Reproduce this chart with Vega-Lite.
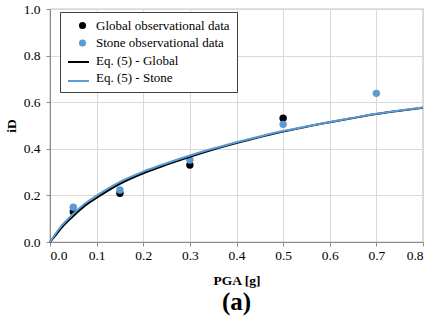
{
  "$schema": "https://vega.github.io/schema/vega-lite/v6.json",
  "autosize": {"type": "none"},
  "padding": {"left": 50, "top": 9, "right": 7, "bottom": 79},
  "width": 373,
  "height": 233,
  "background": "white",
  "title": {"text": "(a)", "orient": "bottom", "font": "Liberation Serif, Times New Roman, serif", "fontSize": 25, "fontWeight": "bold", "color": "#000000", "offset": 3, "anchor": "middle"},
  "config": {
    "font": "Liberation Serif, Times New Roman, serif",
    "view": {"stroke": "#8c8c8c", "strokeWidth": 1.2},
    "axis": {"labelFont": "Liberation Serif, Times New Roman, serif", "titleFont": "Liberation Serif, Times New Roman, serif", "labelColor": "#000000", "titleColor": "#000000", "gridColor": "#d9d9d9", "gridWidth": 1, "domainColor": "#8c8c8c", "tickColor": "#8c8c8c", "labelFontSize": 13.5, "titleFontSize": 13.5, "titleFontWeight": "bold"},
    "legend": {"labelFont": "Liberation Serif, Times New Roman, serif", "labelColor": "#000000", "labelFontSize": 13, "labelLimit": 300}
  },
  "data": {"values": [
    {"x": 0.05, "y": 0.13, "series": "Global observational data", "kind": "obs"},
    {"x": 0.15, "y": 0.209, "series": "Global observational data", "kind": "obs"},
    {"x": 0.3, "y": 0.33, "series": "Global observational data", "kind": "obs"},
    {"x": 0.5, "y": 0.531, "series": "Global observational data", "kind": "obs"},
    {"x": 0.05, "y": 0.149, "series": "Stone observational data", "kind": "obs"},
    {"x": 0.15, "y": 0.223, "series": "Stone observational data", "kind": "obs"},
    {"x": 0.3, "y": 0.352, "series": "Stone observational data", "kind": "obs"},
    {"x": 0.5, "y": 0.505, "series": "Stone observational data", "kind": "obs"},
    {"x": 0.7, "y": 0.638, "series": "Stone observational data", "kind": "obs"},
    {"x": 0.0, "y": 0.0, "series": "Eq. (5) - Global", "kind": "eq"},
    {"x": 0.01, "y": 0.024, "series": "Eq. (5) - Global", "kind": "eq"},
    {"x": 0.025, "y": 0.062, "series": "Eq. (5) - Global", "kind": "eq"},
    {"x": 0.05, "y": 0.112, "series": "Eq. (5) - Global", "kind": "eq"},
    {"x": 0.075, "y": 0.156, "series": "Eq. (5) - Global", "kind": "eq"},
    {"x": 0.1, "y": 0.19, "series": "Eq. (5) - Global", "kind": "eq"},
    {"x": 0.15, "y": 0.25, "series": "Eq. (5) - Global", "kind": "eq"},
    {"x": 0.2, "y": 0.295, "series": "Eq. (5) - Global", "kind": "eq"},
    {"x": 0.25, "y": 0.332, "series": "Eq. (5) - Global", "kind": "eq"},
    {"x": 0.3, "y": 0.366, "series": "Eq. (5) - Global", "kind": "eq"},
    {"x": 0.35, "y": 0.397, "series": "Eq. (5) - Global", "kind": "eq"},
    {"x": 0.4, "y": 0.425, "series": "Eq. (5) - Global", "kind": "eq"},
    {"x": 0.45, "y": 0.451, "series": "Eq. (5) - Global", "kind": "eq"},
    {"x": 0.5, "y": 0.474, "series": "Eq. (5) - Global", "kind": "eq"},
    {"x": 0.55, "y": 0.495, "series": "Eq. (5) - Global", "kind": "eq"},
    {"x": 0.6, "y": 0.514, "series": "Eq. (5) - Global", "kind": "eq"},
    {"x": 0.65, "y": 0.532, "series": "Eq. (5) - Global", "kind": "eq"},
    {"x": 0.7, "y": 0.549, "series": "Eq. (5) - Global", "kind": "eq"},
    {"x": 0.75, "y": 0.563, "series": "Eq. (5) - Global", "kind": "eq"},
    {"x": 0.8, "y": 0.576, "series": "Eq. (5) - Global", "kind": "eq"},
    {"x": 0.0, "y": 0.0, "series": "Eq. (5) - Stone", "kind": "eq"},
    {"x": 0.01, "y": 0.03, "series": "Eq. (5) - Stone", "kind": "eq"},
    {"x": 0.025, "y": 0.07, "series": "Eq. (5) - Stone", "kind": "eq"},
    {"x": 0.05, "y": 0.121, "series": "Eq. (5) - Stone", "kind": "eq"},
    {"x": 0.075, "y": 0.165, "series": "Eq. (5) - Stone", "kind": "eq"},
    {"x": 0.1, "y": 0.199, "series": "Eq. (5) - Stone", "kind": "eq"},
    {"x": 0.15, "y": 0.258, "series": "Eq. (5) - Stone", "kind": "eq"},
    {"x": 0.2, "y": 0.302, "series": "Eq. (5) - Stone", "kind": "eq"},
    {"x": 0.25, "y": 0.338, "series": "Eq. (5) - Stone", "kind": "eq"},
    {"x": 0.3, "y": 0.371, "series": "Eq. (5) - Stone", "kind": "eq"},
    {"x": 0.35, "y": 0.401, "series": "Eq. (5) - Stone", "kind": "eq"},
    {"x": 0.4, "y": 0.428, "series": "Eq. (5) - Stone", "kind": "eq"},
    {"x": 0.45, "y": 0.453, "series": "Eq. (5) - Stone", "kind": "eq"},
    {"x": 0.5, "y": 0.476, "series": "Eq. (5) - Stone", "kind": "eq"},
    {"x": 0.55, "y": 0.496, "series": "Eq. (5) - Stone", "kind": "eq"},
    {"x": 0.6, "y": 0.515, "series": "Eq. (5) - Stone", "kind": "eq"},
    {"x": 0.65, "y": 0.533, "series": "Eq. (5) - Stone", "kind": "eq"},
    {"x": 0.7, "y": 0.55, "series": "Eq. (5) - Stone", "kind": "eq"},
    {"x": 0.75, "y": 0.564, "series": "Eq. (5) - Stone", "kind": "eq"},
    {"x": 0.8, "y": 0.577, "series": "Eq. (5) - Stone", "kind": "eq"}
  ]},
  "encoding": {
    "x": {"field": "x", "type": "quantitative", "scale": {"domain": [0, 0.8], "nice": false, "zero": true},
      "axis": {"title": "PGA [g]", "orient": "bottom", "values": [0, 0.1, 0.2, 0.3, 0.4, 0.5, 0.6, 0.7, 0.8], "format": ".1f", "tickSize": 4, "labelPadding": 2, "titlePadding": 12}},
    "y": {"field": "y", "type": "quantitative", "scale": {"domain": [0, 1], "nice": false},
      "axis": {"title": "iD", "values": [0, 0.2, 0.4, 0.6, 0.8, 1.0], "format": ".1f", "tickSize": 4, "labelPadding": 6, "titlePadding": 5}}
  },
  "layer": [
    {"transform": [{"filter": "datum.kind == 'obs'"}], "mark": {"type": "point", "filled": true, "size": 55, "opacity": 1},
      "encoding": {"fill": {"field": "series", "type": "nominal",
        "scale": {"domain": ["Global observational data", "Stone observational data", "Eq. (5) - Global", "Eq. (5) - Stone"], "range": ["#000000", "#5b9bd5", "transparent", "transparent"]},
        "legend": {"title": null, "orient": "none", "legendX": 10, "legendY": 3, "fillColor": "white", "strokeColor": "#404040", "padding": 7, "symbolType": "circle", "symbolSize": 50, "symbolOpacity": 1, "symbolStrokeWidth": 0, "symbolOffset": 9,
          "labelOffset": 7, "rowPadding": 3.5, "zindex": 1}}}},
    {"transform": [{"filter": "datum.kind == 'eq'"}], "mark": {"type": "line", "strokeWidth": 2, "interpolate": "monotone"},
      "encoding": {"stroke": {"field": "series", "type": "nominal",
        "scale": {"domain": ["Eq. (5) - Global", "Eq. (5) - Stone"], "range": ["#000000", "#5b9bd5"]},
        "legend": {"title": null, "orient": "none", "legendX": 17, "legendY": 41.5, "padding": 0, "symbolType": "stroke", "symbolSize": 441, "symbolStrokeWidth": 2,
          "labelExpr": "''", "labelOffset": 0, "rowPadding": -2, "zindex": 2}}}}
  ]
}
